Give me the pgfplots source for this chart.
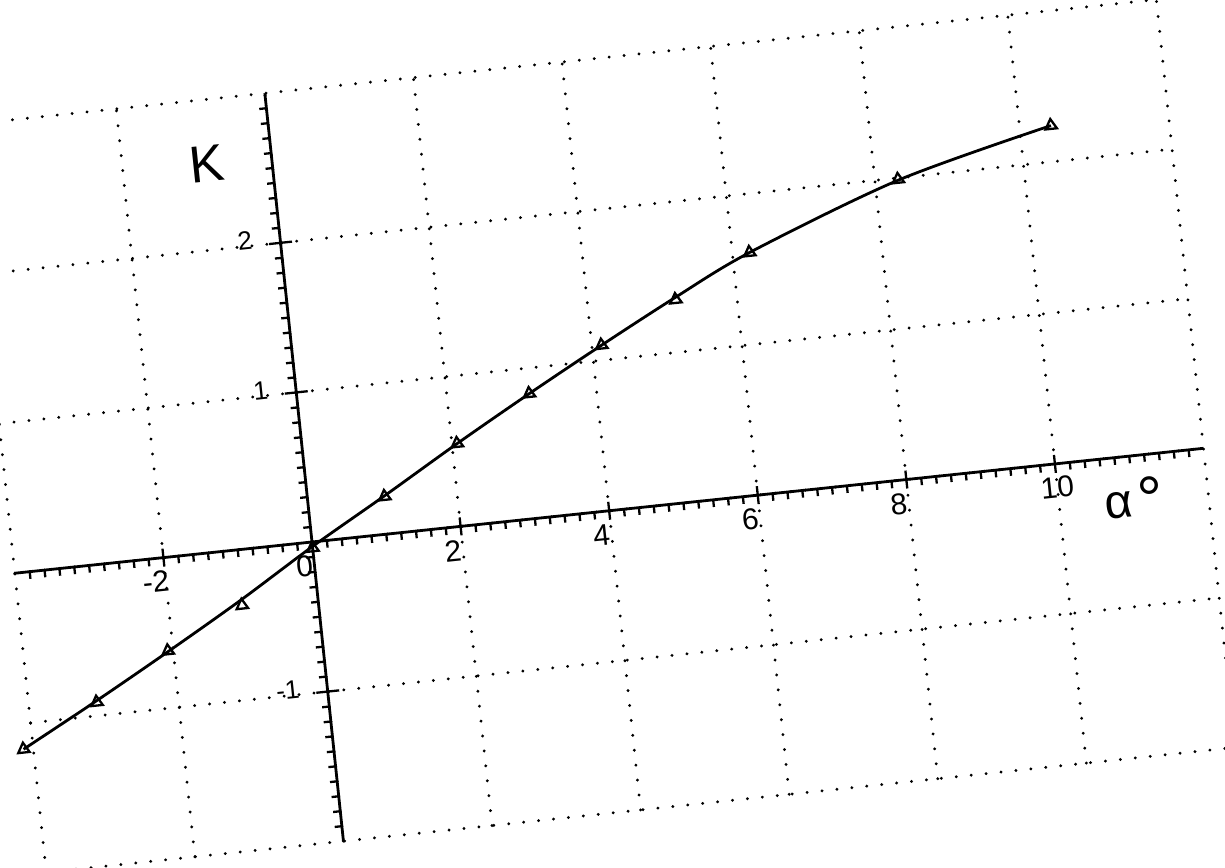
\documentclass[border=0pt]{standalone}
\usepackage{fontspec}
\setmainfont{Liberation Sans}
\usepackage{pgfplots}
\pgfplotsset{compat=1.18}
\begin{document}
\begin{tikzpicture}
\useasboundingbox (0,0) rectangle (612.5pt,433.5pt);
\clip (0,0) rectangle (612.5pt,433.5pt);
\begin{scope}[shift={(156pt,162.5pt)},rotate=6,transform shape]
\begin{axis}[
  anchor=origin, at={(0pt,0pt)},
  x=37.35pt, y=75.2pt,
  xmin=-4, xmax=12, ymin=-2, ymax=3,
  axis lines=middle,
  axis line style={-, line width=1.4pt},
  enlargelimits=false,
  clip=false,
  xtick={-4,-2,...,12},
  xticklabels={,-2\hspace{7.5pt},0,2,4,6,8,\hspace{10pt}10,},
  ytick={-2,-1,...,3},
  yticklabels={,-1,,1,2,},
  minor x tick num=9, minor y tick num=9,
  tick align=outside,
  major tick length=0pt,
  minor tick length=3.6pt,
  every tick/.style={black, line width=1.15pt},
  extra x ticks={-2,2,4,6,8,10},
  extra x tick labels={},
  extra x tick style={tick align=center, major tick length=9pt, grid=none},
  extra y ticks={-1,1,2},
  extra y tick labels={},
  extra y tick style={tick align=center, major tick length=11.5pt, grid=none},
  grid=major,
  major grid style={black, line width=1.6pt, line cap=round, dash pattern=on 0pt off 7.5pt},
  hide obscured x ticks=false,
  hide obscured y ticks=false,
  /pgf/number format/assume math mode=true,
  xticklabel style={font=\fontsize{15}{17}\selectfont, anchor=north, xshift=-5pt, yshift=-3pt},
  yticklabel style={font=\fontsize{13}{15}\selectfont, anchor=east, xshift=-10.5pt, yshift=2.8pt},
]
% fitted curve
\addplot[black, line width=1.4pt, smooth, no markers] coordinates {
(-4.13,-1.17) (-3.09,-0.90) (-2.07,-0.625) (-1.03,-0.335) (0,-0.03) (1.03,0.255) (2.07,0.55) (3.10,0.83) (4.13,1.10) (5.18,1.365) (6.23,1.61) (8.31,1.985) (10.42,2.24)
};
% measured points
\addplot[only marks, mark=triangle, mark size=3.3pt, mark options={black, solid, line width=1.15pt}] coordinates {
(-4.13,-1.17) (-3.09,-0.91) (-2.07,-0.62) (-1.02,-0.37) (0,-0.04) (1.03,0.25) (2.07,0.55) (3.10,0.83) (4.13,1.10) (5.18,1.35) (6.23,1.61) (8.31,1.99) (10.42,2.24)
};
\node at (axis cs:-0.87,2.57) {\fontsize{26}{30}\selectfont K};
\node at (axis cs:11.0,-0.30) {\fontsize{24}{28}\selectfont α\hspace{3pt}\raisebox{-3.5pt}{\fontsize{32}{34}\selectfont °}};
\end{axis}
\end{scope}
\end{tikzpicture}
\end{document}
